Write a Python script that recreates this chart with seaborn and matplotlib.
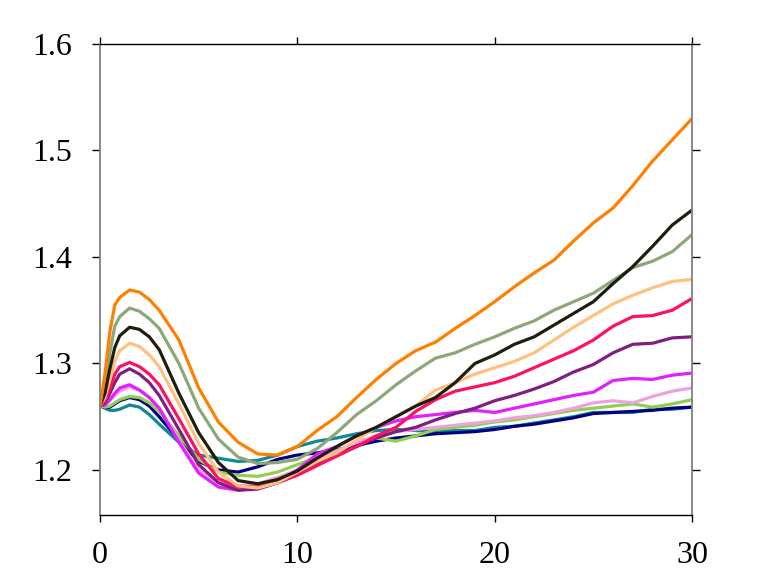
import numpy as np
import pandas as pd
import matplotlib
matplotlib.use("Agg")
import matplotlib.pyplot as plt
import seaborn as sns

x = [0, 0.25, 0.5, 0.75, 1, 1.5, 2, 2.5, 3, 4, 5, 6, 7, 8, 9, 10, 11, 12, 13, 14, 15, 16, 17,
     18, 19, 20, 21, 22, 23, 24, 25, 26, 27, 28, 29, 30]

orange = [1.260, 1.290, 1.330, 1.355, 1.362, 1.369, 1.367, 1.360, 1.350, 1.322, 1.277, 1.245,
          1.226, 1.215, 1.214, 1.222, 1.237, 1.250, 1.268, 1.285, 1.300, 1.312, 1.320, 1.333,
          1.345, 1.358, 1.372, 1.385, 1.397, 1.415, 1.432, 1.446, 1.467, 1.490, 1.510, 1.530]
greygreen = [1.260, 1.280, 1.310, 1.335, 1.344, 1.352, 1.349, 1.342, 1.333, 1.300, 1.258, 1.229,
             1.212, 1.206, 1.207, 1.210, 1.220, 1.235, 1.252, 1.265, 1.280, 1.293, 1.305, 1.310,
             1.318, 1.325, 1.333, 1.340, 1.350, 1.358, 1.366, 1.378, 1.390, 1.396, 1.405, 1.421]
black = [1.260, 1.272, 1.295, 1.315, 1.326, 1.334, 1.332, 1.325, 1.313, 1.272, 1.235, 1.207,
         1.190, 1.187, 1.191, 1.199, 1.211, 1.222, 1.232, 1.240, 1.250, 1.260, 1.268, 1.282,
         1.300, 1.308, 1.318, 1.325, 1.336, 1.347, 1.358, 1.375, 1.391, 1.410, 1.430, 1.444]
lightorange = [1.260, 1.268, 1.285, 1.302, 1.312, 1.319, 1.316, 1.308, 1.297, 1.262, 1.225, 1.198,
               1.185, 1.183, 1.188, 1.198, 1.208, 1.216, 1.228, 1.240, 1.250, 1.260, 1.275, 1.282,
               1.290, 1.296, 1.302, 1.310, 1.322, 1.334, 1.345, 1.356, 1.364, 1.371, 1.377, 1.379]
pinkred = [1.260, 1.265, 1.276, 1.290, 1.297, 1.301, 1.297, 1.290, 1.280, 1.248, 1.215, 1.192,
           1.184, 1.184, 1.188, 1.195, 1.204, 1.213, 1.222, 1.232, 1.240, 1.255, 1.266, 1.274,
           1.278, 1.282, 1.288, 1.296, 1.304, 1.312, 1.322, 1.335, 1.344, 1.345, 1.350, 1.361]
purple = [1.260, 1.263, 1.272, 1.282, 1.290, 1.295, 1.290, 1.282, 1.270, 1.238, 1.205, 1.188,
          1.181, 1.182, 1.188, 1.196, 1.205, 1.215, 1.222, 1.230, 1.236, 1.240, 1.247, 1.253,
          1.258, 1.265, 1.270, 1.276, 1.283, 1.292, 1.299, 1.310, 1.318, 1.319, 1.324, 1.325]
magenta = [1.260, 1.261, 1.266, 1.272, 1.277, 1.280, 1.275, 1.268, 1.258, 1.226, 1.197, 1.184,
           1.181, 1.183, 1.188, 1.200, 1.215, 1.222, 1.232, 1.240, 1.246, 1.250, 1.252, 1.254,
           1.256, 1.254, 1.258, 1.262, 1.266, 1.270, 1.273, 1.284, 1.286, 1.285, 1.289, 1.291]
lightpink = [1.260, 1.261, 1.265, 1.270, 1.274, 1.278, 1.275, 1.268, 1.258, 1.228, 1.200, 1.188,
             1.185, 1.187, 1.193, 1.200, 1.210, 1.218, 1.226, 1.232, 1.236, 1.238, 1.240, 1.242,
             1.244, 1.246, 1.249, 1.251, 1.254, 1.258, 1.263, 1.265, 1.263, 1.269, 1.274, 1.277]
lightgreen = [1.260, 1.259, 1.260, 1.263, 1.266, 1.269, 1.268, 1.263, 1.255, 1.232, 1.210, 1.198,
              1.195, 1.194, 1.198, 1.205, 1.212, 1.218, 1.226, 1.230, 1.227, 1.232, 1.238, 1.240,
              1.242, 1.245, 1.247, 1.250, 1.253, 1.256, 1.258, 1.260, 1.262, 1.259, 1.262, 1.266]
teal = [1.260, 1.258, 1.256, 1.256, 1.257, 1.261, 1.259, 1.252, 1.243, 1.226, 1.214, 1.211,
        1.208, 1.209, 1.214, 1.222, 1.227, 1.230, 1.234, 1.237, 1.238, 1.237, 1.236, 1.237,
        1.237, 1.240, 1.241, 1.244, 1.247, 1.250, 1.254, 1.254, 1.254, 1.257, 1.257, 1.259]
navy = [1.260, 1.259, 1.259, 1.262, 1.265, 1.268, 1.266, 1.260, 1.250, 1.228, 1.208, 1.200,
        1.198, 1.203, 1.210, 1.214, 1.216, 1.219, 1.223, 1.227, 1.230, 1.232, 1.234, 1.235,
        1.236, 1.238, 1.241, 1.243, 1.246, 1.249, 1.253, 1.254, 1.255, 1.256, 1.258, 1.259]

series = {
    "teal": teal, "navy": navy, "lightgreen": lightgreen, "lightpink": lightpink,
    "magenta": magenta, "purple": purple, "pinkred": pinkred, "lightorange": lightorange,
    "greygreen": greygreen, "black": black, "orange": orange,
}
palette = {
    "orange": "#FF8000", "greygreen": "#8CA878", "black": "#1E1E0E", "lightorange": "#FFC080",
    "pinkred": "#FF1060", "purple": "#7F1F7F", "magenta": "#E020FF", "lightpink": "#F0A0E0",
    "lightgreen": "#90D050", "teal": "#10889A", "navy": "#000080",
}

xticks = [0, 10, 20, 30]
yticks = [1.2, 1.3, 1.4, 1.5, 1.6]
xtick_labels = ["0", "10", "20", "30"]
ytick_labels = ["1.2", "1.3", "1.4", "1.5", "1.6"]

df = pd.concat([pd.DataFrame({"x": x, "y": v, "s": k}) for k, v in series.items()],
               ignore_index=True)

sns.set_style("white")
plt.rcParams["font.family"] = ["Liberation Serif", "DejaVu Serif"]

fig = plt.figure(figsize=(7.65, 5.75), dpi=100)
ax = fig.add_axes([100 / 765, 1 - 515 / 575, 592 / 765, 471 / 575])

sns.lineplot(data=df, x="x", y="y", hue="s", palette=palette, linewidth=2.3,
             legend=False, ax=ax, estimator=None, sort=False)

ax.set_xlim(0, 30)
ax.set_ylim(1.1577, 1.6)
ax.set_xticks(xticks)
ax.set_xticklabels(xtick_labels)
ax.set_yticks(yticks)
ax.set_yticklabels(ytick_labels)
ax.set_xlabel("")
ax.set_ylabel("")

for side in ["left", "right"]:
    ax.spines[side].set_color("#808080")
    ax.spines[side].set_linewidth(1.3)
    ax.spines[side].set_visible(True)
for side in ["top", "bottom"]:
    ax.spines[side].set_color("black")
    ax.spines[side].set_linewidth(1.0)
    ax.spines[side].set_visible(True)

ax.tick_params(axis="both", which="major", direction="out", labelsize=23,
               colors="black", width=1.0)
ax.tick_params(axis="x", bottom=True, top=True, length=5, pad=14)
ax.tick_params(axis="y", left=True, right=True, length=6, pad=14)

fig.savefig("out.png", dpi=100)
